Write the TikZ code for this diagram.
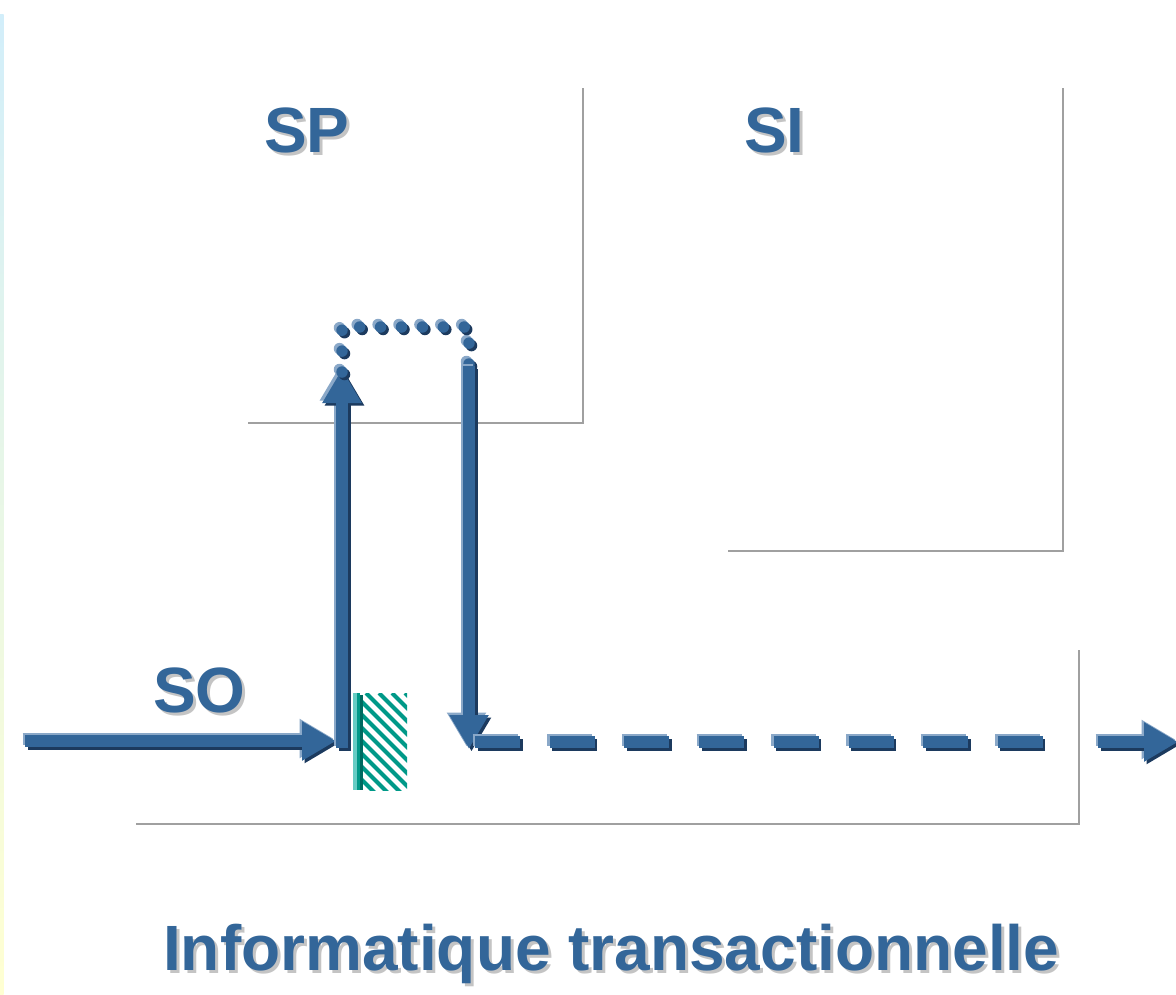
\documentclass[tikz,border=0pt]{standalone}
\usepackage{fontspec}
\setmainfont{Liberation Sans}
\usetikzlibrary{arrows.meta}

\definecolor{flowblue}{HTML}{336699}
\definecolor{flowlight}{HTML}{8AA8C8}
\definecolor{flowdark}{HTML}{1C3A5E}
\definecolor{frame}{HTML}{A0A0A0}
\definecolor{txtshadow}{HTML}{C4C4C4}
\definecolor{teal1}{HTML}{009988}
\definecolor{teal2}{HTML}{66CCC4}
\definecolor{teal3}{HTML}{006A60}
\definecolor{stripetop}{HTML}{D2EEFA}
\definecolor{stripebot}{HTML}{FFFFD2}

\tikzset{
  framebox/.style={draw=frame, line width=2.2pt},
  flow/.style={line width=12pt},
  bigtip/.style={-{Triangle[length=34pt,width=37pt]}},
  dotline/.style={line width=11.5pt, line cap=round, dash pattern=on 0pt off 20.9pt},
  dashline/.style={line width=12pt, dash pattern=on 45pt off 29.7pt},
  lbl/.style={font=\bfseries\fontsize{64}{64}\selectfont, inner sep=0pt, anchor=base west, text=flowblue},
}

% a blue flow drawn with a light edge up-left and a dark edge down-right
\newcommand\flowpath[2]{%
  \draw[#1, flowlight, transform canvas={shift={(-2.5pt,2.5pt)}}] #2;
  \draw[#1, flowdark, transform canvas={shift={(2.5pt,-2.5pt)}}] #2;
  \draw[#1, flowblue] #2;}

% bold text with a grey drop shadow behind it
\newcommand\shadowtext[1]{%
  \makebox[0pt][l]{\hspace{3pt}\raisebox{-3pt}{\textcolor{txtshadow}{#1}}}#1}

\begin{document}
\begin{tikzpicture}[x=1pt, y=-1pt]
  \useasboundingbox (0,0) rectangle (1176,994);
  \fill[white] (0,0) rectangle (1176,994);

  % thin tinted strip on the left edge
  \shade[top color=stripetop, bottom color=stripebot] (0,14) rectangle (3.5,994);

  % frames of the three levels
  \draw[framebox] (248,423) -- (583,423) -- (583,88);
  \draw[framebox] (728,551) -- (1063,551) -- (1063,88);
  \draw[framebox] (136,824) -- (1079,824) -- (1079,650);

  % labels
  \node[lbl] (sp) at (264,152) {\shadowtext{SP}};
  \node[lbl] (si) at (744,152) {\shadowtext{SI}};
  \node[lbl] (so) at (153,712) {\shadowtext{SO}};
  \node[lbl] (title) at (163,970) {\shadowtext{Informatique transactionnelle}};

  % anchor points of the flows
  \coordinate (soStart) at (25,741);
  \coordinate (soTip)   at (336,741);
  \coordinate (upBot)   at (342,748);
  \coordinate (upTip)   at (342,369);
  \coordinate (loopA)   at (342,372);
  \coordinate (loopB)   at (342,327);
  \coordinate (loopC)   at (469,327);
  \coordinate (loopD)   at (469,365);
  \coordinate (downTop) at (469,366);
  \coordinate (downTip) at (469,749);
  \coordinate (dashA)   at (475,742);
  \coordinate (dashB)   at (1045,742);
  \coordinate (outA)    at (1098,742);
  \coordinate (outTip)  at (1178,742);

  % buffer block: solid edge and hatched body
  \fill[teal2] (352.5,693) rectangle (356.5,790);
  \fill[teal1] (356.5,693) rectangle (360,790);
  \fill[teal3] (360,695) rectangle (363,790);
  \begin{scope}
    \clip (363,693) rectangle (407,790);
    \foreach \c in {-140,-127,...,60}
      \draw[teal1, line width=4pt] (363+\c,693) -- (363+\c+120,813);
  \end{scope}

  % flows
  \flowpath{flow, bigtip}{(soStart) -- (soTip)}
  \flowpath{flow, bigtip}{(upBot) -- (upTip)}
  \flowpath{dotline}{(loopA) -- (loopB) -- (loopC) -- (loopD)}
  \flowpath{flow, bigtip}{(downTop) -- (downTip)}
  \flowpath{dashline}{(dashA) -- (dashB)}
  \flowpath{flow, bigtip}{(outA) -- (outTip)}
\end{tikzpicture}
\end{document}
